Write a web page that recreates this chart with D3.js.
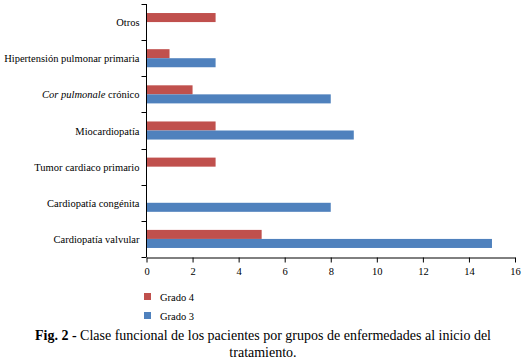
<!DOCTYPE html>
<html><head><meta charset="utf-8">
<script src="https://cdn.jsdelivr.net/npm/d3@7"></script>
<style>body{margin:0;background:#fff}svg{display:block}text{font-family:"Liberation Serif","Times New Roman",Times,"DejaVu Serif","Liberation Sans",sans-serif}</style>
</head><body>
<script>
const categories = ["Otros","Hipertensión pulmonar primaria","Cor pulmonale crónico","Miocardiopatía","Tumor cardiaco primario","Cardiopatía congénita","Cardiopatía valvular"];
const grado4 = [3,1,2,3,3,0,5];
const grado3 = [0,3,8,9,0,8,15];
const xTicks = [0,2,4,6,8,10,12,14,16];
const seriesNames = ["Grado 4","Grado 3"];
const colors = ["#C0504D","#4F81BD"];

const W=525,H=363;
const svg=d3.select("body").append("svg").attr("width",W).attr("height",H);
const m={l:146.5,r:10,t:4,b:106};
const x=d3.scaleLinear().domain([0,16]).range([m.l,515]);
const y=d3.scaleBand().domain(categories).range([m.t,257]).paddingInner(0.5).paddingOuter(0.25);
const yb=d3.scaleBand().domain(categories).range([m.t,257]);
const sub=d3.scaleBand().domain(seriesNames).range([0,y.bandwidth()]);

const data=[grado4,grado3];
data.forEach((vals,si)=>{
  svg.append("g").selectAll("rect").data(categories).join("rect")
    .attr("x",x(0)).attr("y",(c)=>y(c)+sub(seriesNames[si]))
    .attr("width",(c,i)=>x(vals[i])-x(0)).attr("height",sub.bandwidth())
    .attr("fill",colors[si]);
});

// y axis
const ya=svg.append("g");
ya.append("line").attr("x1",m.l).attr("x2",m.l).attr("y1",m.t).attr("y2",257).attr("stroke","#000");
const bounds=categories.map(c=>yb(c)).concat([257]);
ya.selectAll("line.t").data(bounds).join("line").attr("class","t")
  .attr("x1",m.l-5).attr("x2",m.l).attr("y1",d=>Math.round(d)+0.5).attr("y2",d=>Math.round(d)+0.5).attr("stroke","#000");
const lbl=ya.selectAll("text").data(categories).join("text")
  .attr("x",m.l-7).attr("y",c=>yb(c)+yb.bandwidth()/2+4)
  .attr("text-anchor","end").attr("font-size",10.5).attr("fill","#000")
  .attr("textLength",null);
lbl.each(function(c){
  const t=d3.select(this);
  if(c==="Cor pulmonale crónico"){
    t.append("tspan").attr("font-style","italic").text("Cor pulmonale");
    t.append("tspan").text(" crónico");
  } else t.text(c);
  const w=this.getComputedTextLength();
  if(w>m.l-10){ t.attr("textLength",m.l-10).attr("lengthAdjust","spacingAndGlyphs"); }
});

// x axis
const xa=svg.append("g").attr("transform","translate(0,257.5)")
  .call(d3.axisBottom(x).tickValues(xTicks).tickSize(5).tickSizeOuter(0));
xa.attr("font-family",null);
xa.select(".domain").attr("stroke","#000");
xa.selectAll(".tick line").attr("stroke","#000");
xa.selectAll("text").attr("font-size",10.5).attr("fill","#000").attr("dy","0.9em");

// legend
seriesNames.forEach((s,i)=>{
  const ly=297+i*19;
  svg.append("rect").attr("x",144).attr("y",ly-4).attr("width",7).attr("height",7).attr("fill",colors[i]);
  svg.append("text").attr("x",160).attr("y",ly+3.5).attr("font-size",10.5).text(s);
});

// caption
const cap=svg.append("text").attr("x",263).attr("y",340).attr("text-anchor","middle")
  .attr("font-size",14).attr("fill","#000");
cap.append("tspan").attr("font-weight","bold").text("Fig. 2 -");
cap.append("tspan").text(" Clase funcional de los pacientes por grupos de enfermedades al inicio del");
svg.append("text").attr("x",263).attr("y",357).attr("text-anchor","middle")
  .attr("font-size",14).text("tratamiento.");
</script>
</body></html>
